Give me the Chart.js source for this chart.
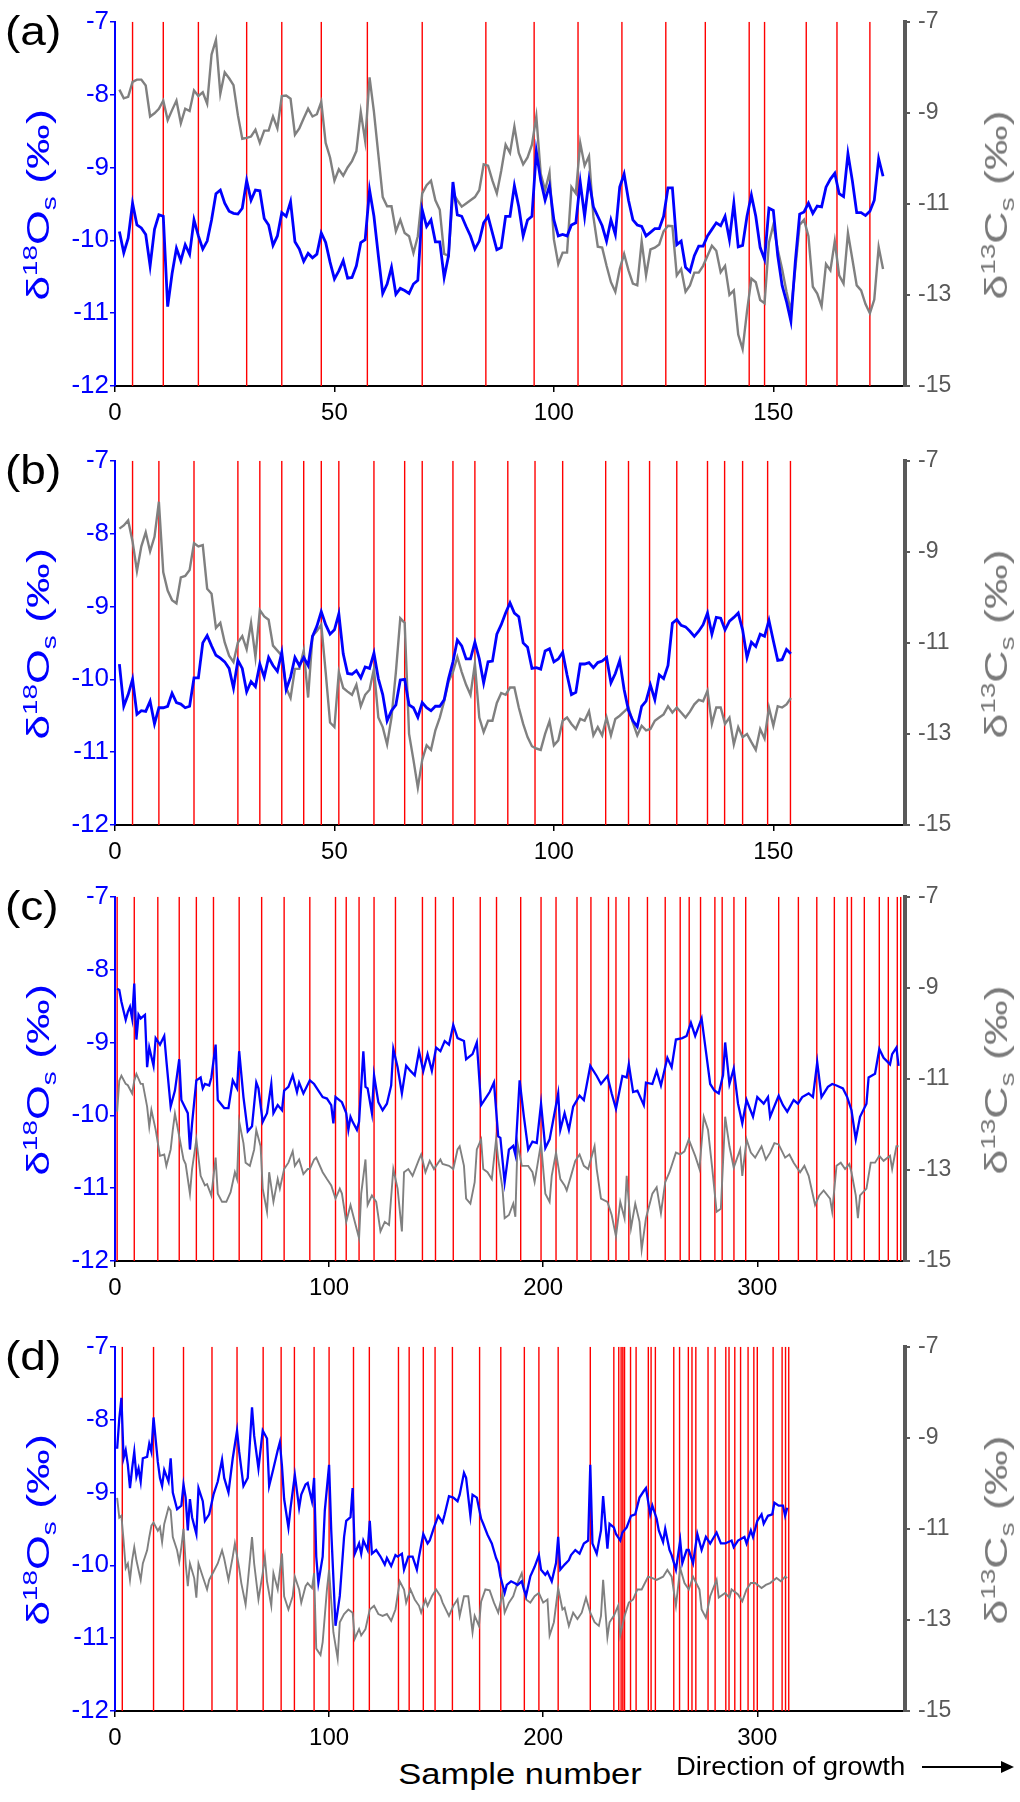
<!DOCTYPE html>
<html>
<head>
<meta charset="utf-8">
<script src="https://cdn.jsdelivr.net/npm/chart.js@4.4.0/dist/chart.umd.min.js"></script>
<style>
  body { margin: 0; background: #fff; font-family: Arial, "Liberation Sans", sans-serif; }
  #wrap { position: relative; width: 1020px; height: 1802px; overflow: hidden; background: #fff; }
  #wrap canvas { position: absolute; left: 0; }
  .lbl { position: absolute; white-space: nowrap; line-height: 1; z-index: 2; }
  .rot { transform: translate(-50%, -50%) rotate(-90deg) scaleX(1.4); }
  .lbl sup, .lbl sub { font-size: 0.62em; line-height: 0; }
  .arrow { position: absolute; left: 922px; top: 1766px; width: 80px; height: 0; border-top: 2px solid #000; }
  .arrow:after { content: ""; position: absolute; right: -12px; top: -7px; border-left: 13px solid #000; border-top: 6px solid transparent; border-bottom: 6px solid transparent; }
</style>
</head>
<body>
<div id="wrap"></div>
<script>
// (a) sample 1..175
const oxyA = [
  -9.88, -10.17, -9.97, -9.49, -9.79, -9.83, -9.92, -10.35, -9.85, -9.65,
  -9.67, -10.91, -10.46, -10.11, -10.28, -10.06, -10.19, -9.72, -9.94, -10.12,
  -10.01, -9.72, -9.36, -9.31, -9.49, -9.6, -9.63, -9.64, -9.56, -9.18,
  -9.45, -9.31, -9.32, -9.7, -9.79, -10.07, -9.94, -9.62, -9.67, -9.47,
  -10.02, -10.12, -10.29, -10.18, -10.24, -10.19, -9.9, -10.03, -10.3, -10.53,
  -10.42, -10.28, -10.52, -10.51, -10.35, -10.03, -9.99, -9.31, -9.67, -10.21,
  -10.73, -10.6, -10.37, -10.74, -10.66, -10.69, -10.73, -10.6, -10.55, -9.58,
  -9.81, -9.72, -10.02, -10.02, -10.51, -10.21, -9.2, -9.65, -9.67, -9.81,
  -9.94, -10.12, -10.01, -9.76, -9.67, -9.9, -10.13, -10.1, -9.67, -9.67,
  -9.25, -9.54, -9.94, -9.72, -9.67, -8.78, -9.18, -9.45, -9.25, -9.72,
  -9.94, -9.92, -9.94, -9.79, -9.76, -9.2, -9.67, -9.17, -9.54, -9.67,
  -9.8, -10.01, -9.72, -9.92, -9.27, -9.09, -9.45, -9.72, -9.79, -9.81,
  -9.94, -9.89, -9.84, -9.84, -9.67, -9.28, -9.28, -10.06, -10.01, -10.37,
  -10.43, -10.21, -10.08, -10.08, -9.94, -9.85, -9.76, -9.8, -9.67, -9.99,
  -9.49, -10.09, -10.07, -9.67, -9.38, -9.67, -10.1, -10.26, -9.56, -9.59,
  -10.21, -10.62, -10.84, -11.11, -10.3, -9.64, -9.61, -9.49, -9.63, -9.53,
  -9.54, -9.27, -9.16, -9.08, -9.36, -9.4, -8.81, -9.18, -9.62, -9.62,
  -9.66, -9.6, -9.45, -8.88, -9.12
];
const carbA = [
  -8.49, -8.68, -8.65, -8.32, -8.27, -8.27, -8.4, -9.08, -9.01, -8.91,
  -8.73, -9.16, -8.94, -8.73, -9.23, -8.91, -8.96, -8.51, -8.63, -8.55,
  -8.8, -7.72, -7.4, -8.58, -8.11, -8.24, -8.39, -9.05, -9.57, -9.55,
  -9.52, -9.37, -9.66, -9.39, -9.39, -9.08, -9.34, -8.63, -8.62, -8.69,
  -9.48, -9.34, -9.12, -8.91, -9.08, -9.03, -8.76, -9.66, -9.98, -10.49,
  -10.24, -10.38, -10.2, -10.06, -9.84, -8.98, -9.62, -8.22, -8.98, -9.91,
  -10.85, -11.05, -11.05, -11.6, -11.35, -11.64, -11.71, -12.08, -11.71, -10.77,
  -10.59, -10.49, -10.92, -11.13, -12.1, -12.14, -10.77, -10.92, -11.06, -10.99,
  -10.92, -10.85, -10.7, -10.13, -10.16, -10.49, -10.77, -10.27, -9.7, -9.88,
  -9.3, -9.88, -10.13, -9.98, -9.7, -9.08, -10.34, -10.7, -10.31, -11.78,
  -12.32, -12.07, -12.07, -10.63, -10.77, -9.66, -10.16, -9.95, -11.28, -11.94,
  -11.96, -12.36, -12.72, -12.93, -12.43, -12.1, -12.46, -12.75, -12.79, -11.82,
  -12.57, -12.0, -11.96, -11.89, -11.6, -11.48, -11.49, -12.57, -12.43, -12.93,
  -12.79, -12.51, -12.51, -12.36, -12.14, -11.92, -12.03, -12.5, -12.36, -13.0,
  -12.9, -13.87, -14.19, -13.36, -12.64, -12.72, -13.11, -13.18, -11.85, -11.46,
  -12.0, -12.43, -12.93, -13.36, -12.43, -11.46, -11.35, -11.71, -12.82, -12.97,
  -13.25, -12.32, -12.46, -11.82, -12.57, -12.75, -11.64, -12.21, -12.79, -12.9,
  -13.2, -13.4, -13.1, -11.95, -12.43
];
const redA = [4, 11, 19, 30, 38, 47, 57.5, 70, 84.5, 95.5, 105.5, 115.5, 125.5, 134.5, 144.5, 148, 157.5, 164.5, 172];

// (b) sample 1..154
const oxyB = [
  -9.79, -10.37, -10.21, -10.0, -10.48, -10.43, -10.44, -10.3, -10.61, -10.39,
  -10.39, -10.37, -10.19, -10.32, -10.34, -10.39, -10.37, -9.98, -9.98, -9.5,
  -9.4, -9.54, -9.67, -9.71, -9.76, -9.85, -10.12, -9.74, -9.85, -10.17,
  -10.03, -10.1, -9.79, -9.97, -9.7, -9.81, -9.89, -9.63, -10.14, -9.97,
  -9.7, -9.81, -9.7, -9.81, -9.41, -9.27, -9.07, -9.25, -9.38, -9.32,
  -9.1, -9.65, -9.92, -9.93, -9.88, -9.98, -9.83, -9.85, -9.64, -9.99,
  -10.21, -10.57, -10.43, -10.35, -10.01, -10.0, -10.35, -10.39, -10.52, -10.32,
  -10.39, -10.43, -10.37, -10.37, -10.28, -9.99, -9.76, -9.46, -9.54, -9.72,
  -9.72, -9.49, -9.72, -10.05, -9.76, -9.75, -9.38, -9.25, -9.09, -8.95,
  -9.09, -9.14, -9.5, -9.56, -9.85, -9.84, -9.86, -9.61, -9.58, -9.76,
  -9.72, -9.63, -9.94, -10.21, -10.18, -9.79, -9.79, -9.77, -9.84, -9.77,
  -9.75, -9.7, -10.05, -9.92, -9.74, -10.14, -10.43, -10.57, -10.65, -10.37,
  -10.3, -10.08, -10.28, -9.94, -9.99, -9.81, -9.23, -9.18, -9.26, -9.28,
  -9.34, -9.41, -9.34, -9.25, -9.09, -9.38, -9.15, -9.16, -9.32, -9.2,
  -9.15, -9.09, -9.32, -9.7, -9.49, -9.55, -9.38, -9.41, -9.19, -9.47,
  -9.74, -9.73, -9.59, -9.65
];
const carbB = [
  -8.49, -8.42, -8.31, -8.77, -9.42, -8.88, -8.57, -8.99, -8.67, -7.9,
  -9.45, -9.85, -10.06, -10.13, -9.56, -9.53, -9.4, -8.81, -8.88, -8.85,
  -9.81, -9.92, -10.67, -10.56, -10.99, -11.28, -11.42, -10.99, -10.85, -11.14,
  -10.56, -11.31, -10.28, -10.42, -10.49, -11.06, -11.17, -11.28, -11.99, -12.21,
  -11.57, -11.57, -11.17, -12.2, -10.85, -10.74, -10.6, -11.64, -12.75, -12.85,
  -11.64, -11.99, -12.07, -12.14, -11.92, -12.39, -12.14, -12.03, -11.57, -12.64,
  -12.85, -13.23, -12.64, -11.64, -10.46, -10.56, -13.0, -13.57, -14.18, -13.57,
  -13.25, -13.35, -12.92, -12.64, -12.28, -11.85, -11.64, -11.31, -11.64, -11.92,
  -12.14, -11.46, -12.64, -12.96, -12.71, -12.71, -12.32, -12.1, -12.14, -11.98,
  -11.98, -12.42, -12.78, -13.07, -13.27, -13.32, -13.35, -13.0, -12.72, -13.25,
  -13.14, -12.71, -12.64, -12.78, -12.89, -12.67, -12.71, -12.5, -13.03, -12.85,
  -13.03, -12.64, -13.03, -12.67, -12.6, -12.51, -12.42, -12.75, -13.03, -12.82,
  -12.92, -12.89, -12.71, -12.64, -12.57, -12.39, -12.53, -12.42, -12.53, -12.64,
  -12.51, -12.35, -12.25, -12.28, -12.05, -12.78, -12.42, -12.42, -12.78, -12.64,
  -13.23, -12.85, -13.07, -13.0, -13.18, -13.35, -12.89, -13.1, -12.42, -12.82,
  -12.39, -12.42, -12.35, -12.21
];
const redB = [4, 10, 18, 28, 33, 38, 43, 47, 51, 59, 66, 70, 77, 82, 89.5, 95.7, 102, 111.8, 117, 121.8, 128, 135, 138.9, 143, 148.7, 153.9];

// (c) [sample, value]
const oxyC = [
  [1,-8.26],[2,-8.28],[3,-8.44],[5,-8.69],[6,-8.58],[7,-8.51],[8,-8.67],[9,-8.19],[10,-8.96],[11,-8.62],[12,-8.67],[14,-8.62],[15,-9.34],[16,-9.07],[18,-9.32],[19,-8.94],[21,-9.03],[23,-8.91],[24,-9.25],[26,-9.88],[28,-9.66],[30,-9.23],[31,-9.79],[34,-9.97],[35,-10.47],[36,-10.11],[38,-9.52],[40,-9.48],[41,-9.63],[42,-9.57],[44,-9.59],[45,-9.48],[47,-9.03],[48,-9.79],[51,-9.9],[53,-9.9],[55,-9.52],[57,-9.63],[58,-9.12],[60,-9.75],
  [62,-10.22],[64,-10.15],[66,-9.55],[67,-9.63],[69,-10.09],[71,-9.97],[73,-9.57],[74,-9.97],[76,-9.86],[78,-9.93],[79,-9.66],[81,-9.61],[83,-9.45],[85,-9.68],[86,-9.55],[88,-9.7],[91,-9.52],[93,-9.57],[95,-9.66],[97,-9.75],[99,-9.77],[101,-9.86],[102,-10.11],[103,-9.75],[106,-9.82],[108,-9.97],[109,-10.2],[110,-10.02],[111,-10.09],[113,-10.2],[114,-10.09],[116,-9.12],[117,-9.61],[118,-9.63],[120,-9.97],[121,-9.45],[123,-9.82],[125,-9.93],[127,-9.84],[129,-9.59],
  [130,-9.09],[132,-9.34],[134,-9.7],[136,-9.32],[138,-9.39],[140,-9.45],[142,-9.12],[144,-9.39],[146,-9.16],[148,-9.39],[150,-9.07],[152,-9.12],[154,-8.98],[156,-9.03],[158,-8.76],[160,-8.94],[163,-8.98],[164,-9.23],[167,-9.16],[169,-9.0],[171,-9.86],[173,-9.77],[175,-9.68],[177,-9.55],[179,-10.29],[180,-10.31],[182,-10.92],[184,-10.47],[186,-10.42],[187,-10.54],[189,-9.52],[191,-10.02],[193,-10.47],[195,-10.36],[197,-10.38],[199,-9.84],[201,-10.45],[203,-10.33],[207,-9.7],[208,-10.2],
  [210,-9.97],[212,-10.2],[214,-9.88],[217,-9.73],[219,-9.79],[222,-9.32],[225,-9.46],[227,-9.57],[230,-9.46],[232,-9.7],[234,-9.91],[237,-9.46],[239,-9.48],[240,-9.3],[242,-9.68],[244,-9.66],[247,-9.86],[248,-9.55],[251,-9.57],[253,-9.39],[255,-9.59],[258,-9.21],[260,-9.34],[262,-8.96],[265,-8.94],[267,-8.91],[269,-8.73],[271,-8.91],[274,-8.67],[276,-9.12],[278,-9.57],[280,-9.66],[282,-9.7],[284,-9.45],[285,-9.0],[287,-9.57],[289,-9.36],[291,-9.84],[293,-10.11],[295,-9.79],
  [298,-10.02],[300,-9.75],[303,-9.84],[305,-9.75],[306,-10.02],[310,-9.73],[312,-9.86],[314,-9.95],[317,-9.79],[319,-9.84],[321,-9.75],[324,-9.7],[326,-9.75],[328,-9.27],[330,-9.75],[333,-9.61],[335,-9.57],[337,-9.59],[340,-9.63],[342,-9.75],[344,-9.93],[346,-10.33],[348,-10.02],[351,-9.84],[352,-9.48],[355,-9.43],[357,-9.09],[359,-9.21],[362,-9.3],[363,-9.16],[365,-9.07],[366,-9.32]
];
const carbC = [
  [1,-11.72],[2,-11.04],[3,-10.93],[5,-11.11],[6,-11.14],[8,-11.32],[9,-11.04],[10,-10.89],[12,-11.11],[13,-11.11],[15,-11.61],[16,-12.05],[17,-11.68],[19,-12.12],[21,-12.69],[23,-12.66],[24,-12.91],[26,-12.55],[27,-12.12],[28,-11.76],[30,-12.26],[32,-12.77],[33,-12.87],[35,-13.52],[36,-12.98],[38,-12.33],[40,-13.13],[42,-13.34],[43,-13.31],[45,-13.56],[47,-12.73],[48,-13.52],[50,-13.7],[52,-13.7],[54,-13.49],[56,-13.05],[57,-13.2],[58,-11.94],[60,-12.41],[61,-12.84],
  [63,-12.91],[65,-12.55],[66,-12.12],[68,-12.48],[69,-13.41],[71,-13.92],[72,-13.05],[74,-13.7],[76,-13.2],[77,-13.41],[79,-12.98],[81,-12.84],[83,-12.59],[84,-12.91],[86,-12.77],[88,-13.09],[90,-12.98],[91,-12.98],[93,-12.77],[94,-12.73],[97,-13.05],[99,-13.2],[101,-13.34],[103,-13.63],[105,-13.41],[106,-13.52],[108,-14.14],[110,-13.77],[112,-14.14],[114,-14.5],[115,-13.52],[117,-12.77],[118,-13.77],[120,-13.56],[122,-13.7],[124,-14.35],[126,-14.14],[128,-14.21],[130,-12.98],[132,-13.41],
  [134,-14.35],[135,-13.05],[137,-12.98],[139,-13.13],[142,-12.77],[143,-12.66],[145,-13.05],[147,-12.8],[149,-12.98],[152,-12.77],[153,-12.87],[156,-12.91],[158,-12.98],[160,-12.55],[161,-12.48],[163,-12.91],[164,-13.63],[166,-13.74],[168,-13.27],[169,-12.55],[171,-12.33],[172,-12.98],[174,-13.05],[176,-13.2],[178,-12.33],[179,-12.77],[181,-13.41],[182,-14.06],[184,-13.99],[186,-13.74],[187,-14.03],[188,-12.41],[190,-12.91],[193,-12.91],[195,-13.05],[196,-13.27],[199,-12.41],[201,-13.52],[203,-13.7],[204,-13.13],
  [206,-12.62],[208,-13.2],[210,-13.34],[211,-13.45],[213,-13.13],[215,-12.8],[217,-12.66],[219,-12.91],[221,-12.98],[224,-12.48],[225,-12.98],[227,-13.63],[230,-13.7],[232,-13.99],[234,-14.46],[236,-13.7],[238,-14.06],[239,-13.13],[241,-14.28],[243,-13.74],[245,-14.14],[246,-14.75],[248,-14.06],[251,-13.52],[253,-13.38],[255,-13.95],[257,-13.27],[259,-13.05],[262,-12.62],[264,-12.66],[266,-12.59],[268,-12.33],[271,-12.69],[273,-12.98],[275,-11.83],[277,-12.12],[279,-12.98],[281,-13.92],[283,-13.85],[285,-11.83],
  [287,-12.48],[289,-12.95],[292,-12.55],[293,-13.13],[295,-12.33],[297,-12.62],[299,-12.73],[302,-12.48],[304,-12.77],[306,-12.62],[308,-12.41],[310,-12.44],[313,-12.73],[315,-12.66],[317,-12.84],[320,-13.05],[322,-12.91],[324,-13.13],[327,-13.77],[329,-13.56],[331,-13.45],[334,-13.63],[335,-13.92],[337,-12.91],[339,-12.84],[341,-12.98],[343,-12.87],[344,-13.05],[346,-13.56],[347,-14.06],[348,-13.56],[351,-13.41],[353,-12.84],[355,-12.84],[357,-12.69],[359,-12.8],[362,-12.69],[363,-12.98],[365,-12.48],[366,-12.48]
];
const redC = [1, 9, 20, 30, 38, 46, 58, 68.5, 79, 91, 103, 108, 114, 121, 131, 143.6, 149.7, 158, 170.6, 178.2, 189.5, 199, 206, 215.8, 222.3, 230.5, 234, 240, 248.7, 257, 264, 268.2, 273.5, 280.2, 283.6, 289.1, 294.6, 310, 319.2, 327.8, 336, 342, 344, 350, 357, 361.2, 365.4, 367];

// (d) [sample, value]
const oxyD = [
  [1,-8.4],[2,-7.99],[3,-7.7],[4,-8.53],[5,-8.42],[6,-8.62],[7,-8.94],[8,-8.67],[9,-8.44],[10,-8.78],[11,-8.67],[12,-8.85],[13,-8.53],[15,-8.51],[16,-8.33],[17,-8.44],[18,-7.97],[20,-8.58],[21,-8.8],[22,-8.91],[23,-8.69],[25,-8.85],[26,-8.53],[27,-9.0],[29,-9.23],[31,-9.18],[32,-8.89],[33,-9.07],[34,-9.52],[35,-9.09],[36,-9.34],[38,-9.57],[39,-8.94],[41,-9.12],[42,-9.39],[44,-9.3],[46,-9.03],[48,-8.85],[50,-8.55],[51,-8.8],
  [53,-9.0],[55,-8.53],[57,-8.15],[58,-8.44],[60,-8.91],[62,-8.8],[64,-7.83],[65,-8.22],[67,-8.67],[69,-8.15],[71,-8.26],[72,-8.91],[74,-8.67],[76,-8.42],[77,-8.31],[78,-8.64],[79,-9.09],[81,-9.48],[82,-9.21],[84,-8.76],[86,-9.21],[87,-9.03],[89,-8.89],[90,-8.87],[92,-9.12],[93,-8.8],[94,-9.88],[95,-10.24],[97,-9.88],[98,-9.25],[100,-8.62],[101,-9.52],[103,-10.83],[105,-10.42],[107,-9.61],[108,-9.39],[110,-9.34],[111,-8.94],[112,-9.84],[114,-9.7],
  [115,-9.84],[116,-9.66],[118,-9.79],[119,-9.39],[120,-9.84],[122,-9.79],[124,-9.88],[126,-9.99],[127,-9.9],[129,-10.01],[131,-9.86],[132,-9.88],[134,-9.84],[135,-10.06],[137,-9.88],[139,-9.88],[141,-10.06],[142,-9.88],[144,-9.57],[146,-9.7],[147,-9.66],[149,-9.48],[151,-9.32],[153,-9.41],[154,-9.3],[156,-9.05],[158,-9.07],[160,-9.12],[161,-9.03],[163,-8.73],[164,-8.8],[166,-9.32],[167,-9.03],[169,-9.07],[171,-9.36],[172,-9.43],[174,-9.58],[176,-9.7],[178,-9.9],[179,-9.97],
  [180,-10.15],[182,-10.38],[183,-10.27],[185,-10.22],[187,-10.25],[188,-10.27],[190,-10.22],[191,-10.33],[192,-10.42],[194,-10.15],[196,-10.02],[198,-9.86],[199,-10.06],[201,-10.13],[202,-10.09],[204,-10.22],[206,-9.97],[207,-9.61],[208,-10.06],[210,-9.99],[212,-9.93],[213,-9.86],[215,-9.79],[217,-9.84],[219,-9.7],[221,-9.66],[222,-8.62],[223,-9.7],[225,-9.84],[227,-9.52],[228,-9.05],[230,-9.77],[231,-9.43],[233,-9.48],[234,-9.57],[236,-9.66],[237,-9.55],[239,-9.48],[241,-9.32],[243,-9.3],
  [245,-9.07],[247,-8.98],[248,-8.94],[250,-9.3],[251,-9.18],[253,-9.36],[254,-9.52],[256,-9.68],[257,-9.5],[259,-9.79],[260,-9.86],[262,-10.06],[264,-9.66],[265,-9.97],[267,-9.79],[268,-9.79],[270,-9.97],[272,-9.57],[274,-9.79],[276,-9.61],[278,-9.7],[281,-9.55],[283,-9.7],[285,-9.7],[288,-9.66],[289,-9.75],[291,-9.66],[294,-9.61],[295,-9.7],[297,-9.52],[298,-9.61],[300,-9.39],[302,-9.3],[303,-9.43],[305,-9.32],[307,-9.3],[308,-9.14],[310,-9.18],[312,-9.18],[313,-9.32],[314,-9.21]
];
const carbD = [
  [1,-10.32],[2,-10.75],[3,-10.71],[4,-11.25],[5,-11.86],[6,-11.76],[7,-12.12],[8,-11.69],[9,-11.4],[10,-11.69],[12,-12.12],[13,-11.76],[15,-11.47],[16,-11.18],[17,-10.93],[18,-10.86],[20,-11.04],[21,-10.96],[22,-11.29],[23,-10.89],[25,-10.53],[26,-10.6],[27,-11.18],[29,-11.47],[30,-11.72],[31,-11.4],[32,-11.0],[33,-11.76],[34,-12.26],[35,-11.76],[37,-12.08],[38,-12.51],[39,-11.76],[41,-12.05],[43,-12.33],[44,-12.12],[46,-11.94],[48,-11.76],[50,-11.47],[51,-11.65],
  [53,-12.12],[55,-11.61],[56,-11.32],[58,-11.86],[59,-12.19],[61,-12.66],[62,-12.19],[64,-11.18],[65,-11.76],[67,-12.55],[69,-11.97],[70,-11.61],[71,-12.15],[73,-12.69],[74,-11.97],[76,-12.33],[78,-11.54],[79,-12.48],[81,-12.77],[83,-12.48],[84,-12.05],[86,-12.33],[87,-12.62],[89,-12.26],[90,-12.19],[92,-12.3],[93,-11.97],[94,-13.63],[96,-13.77],[97,-13.49],[99,-12.33],[100,-11.9],[102,-13.27],[104,-13.85],[105,-13.05],[107,-12.87],[109,-12.77],[111,-12.84],[112,-13.41],[114,-13.2],
  [115,-13.34],[117,-13.2],[119,-12.77],[121,-12.69],[123,-12.87],[125,-12.91],[127,-12.87],[129,-13.02],[131,-12.77],[133,-12.15],[135,-12.33],[136,-12.62],[138,-12.33],[140,-12.55],[142,-12.69],[143,-12.84],[145,-12.55],[146,-12.69],[148,-12.48],[150,-12.33],[152,-12.48],[153,-12.62],[156,-12.91],[158,-12.69],[160,-12.55],[161,-12.91],[163,-12.48],[165,-12.48],[167,-13.27],[168,-12.91],[170,-13.13],[171,-12.6],[173,-12.33],[175,-12.35],[177,-12.62],[179,-12.84],[181,-12.41],[182,-12.84],[184,-12.62],[186,-12.48],
  [188,-12.19],[190,-11.97],[192,-12.55],[194,-12.62],[196,-12.48],[198,-12.41],[200,-12.62],[202,-12.55],[203,-13.34],[205,-13.05],[207,-12.3],[209,-12.77],[210,-12.73],[212,-13.13],[214,-12.84],[216,-12.98],[218,-12.84],[220,-12.51],[222,-12.84],[224,-13.05],[226,-13.13],[227,-12.91],[228,-12.12],[230,-13.38],[231,-13.05],[233,-12.91],[235,-12.69],[236,-13.34],[238,-12.91],[240,-12.62],[242,-12.55],[244,-12.33],[246,-12.33],[249,-12.05],[251,-12.08],[253,-12.12],[256,-12.05],[258,-11.9],[260,-12.05],[262,-12.69],
  [264,-11.86],[266,-12.19],[268,-12.33],[270,-12.05],[273,-12.33],[274,-12.77],[276,-12.95],[278,-12.48],[281,-12.12],[282,-12.51],[285,-12.41],[287,-12.51],[288,-12.33],[291,-12.44],[293,-12.59],[295,-12.33],[297,-12.19],[299,-12.19],[302,-12.3],[304,-12.23],[306,-12.19],[309,-12.08],[311,-12.15],[313,-12.05],[314,-12.08]
];
const redD = [3.4, 18, 32, 45.3, 57, 69.2, 77.6, 83.8, 93, 100, 111.4, 118.8, 132.4, 137.4, 144, 149.5, 157.6, 170.3, 180.2, 191.2, 198, 207, 222, 233, 235.3, 236.4, 237.2, 238, 240.8, 243.4, 249.1, 250.4, 252.4, 261, 263.7, 267.8, 269.5, 271.3, 277, 280.3, 285.3, 286.8, 289.5, 292.2, 295.7, 298.4, 300, 307.4, 311.6, 313.2, 314.7];

const FONT = 'Arial, "Liberation Sans", sans-serif';
const wrap = document.getElementById('wrap');

function seq(vals) { return vals.map((v, i) => ({ x: i + 1, y: v })); }
function pairs(arr) { return arr.map(p => ({ x: p[0], y: p[1] })); }
// each marker line runs the full height of the left axis, broken by a null
function redPoints(xs) {
  const pts = [];
  xs.forEach(x => { pts.push({ x: x, y: -7 }, { x: x, y: -12 }, { x: x, y: null }); });
  return pts;
}

function addLabel(html, css, cls) {
  const d = document.createElement('div');
  d.className = 'lbl' + (cls ? ' ' + cls : '');
  d.innerHTML = html;
  Object.assign(d.style, css);
  wrap.appendChild(d);
}

function makePanel(top, letter, xMax, xStep, oxy, carb, reds, lw) {
  const cv = document.createElement('canvas');
  cv.width = 1020; cv.height = 431;
  cv.style.top = (top - 15) + 'px';
  wrap.appendChild(cv);

  new Chart(cv, {
    type: 'scatter',
    data: {
      datasets: [
        { data: oxy, yAxisID: 'y', showLine: true, borderColor: '#0000ff', borderWidth: lw, pointRadius: 0, order: 1 },
        { data: carb, yAxisID: 'y2', showLine: true, borderColor: '#808080', borderWidth: lw - 0.4, pointRadius: 0, order: 2 },
        { data: redPoints(reds), yAxisID: 'y', showLine: true, spanGaps: false, borderColor: '#ff0000', borderWidth: 1.4, pointRadius: 0, order: 3 }
      ]
    },
    options: {
      responsive: false,
      animation: false,
      events: [],
      layout: { padding: { top: 15, left: 0, right: 0, bottom: 0 } },
      plugins: { legend: { display: false }, tooltip: { enabled: false } },
      scales: {
        x: {
          type: 'linear', position: 'bottom', min: 0, max: xMax,
          afterFit: s => { s.height = 45; },
          ticks: { stepSize: xStep, includeBounds: false, color: '#000', font: { size: 24, family: FONT }, padding: 7, maxRotation: 0 },
          grid: { drawOnChartArea: false, drawTicks: true, tickLength: 6, color: '#000', lineWidth: 1.5 },
          border: { color: '#000', width: 2 }
        },
        y: {
          type: 'linear', position: 'left', min: -12, max: -7,
          afterFit: s => { s.width = 115; },
          ticks: { stepSize: 1, color: '#0000ff', font: { size: 26, family: FONT }, padding: 1 },
          grid: { drawOnChartArea: false, drawTicks: true, tickLength: 5, color: '#0000ff', lineWidth: 1.5 },
          border: { color: '#0000ff', width: 2 }
        },
        y2: {
          type: 'linear', position: 'right', min: -15, max: -7,
          afterFit: s => { s.width = 115; },
          ticks: { stepSize: 2, color: '#595959', font: { size: 23, family: FONT }, padding: 8 },
          grid: { drawOnChartArea: false, drawTicks: true, tickLength: 5, color: '#595959', lineWidth: 2 },
          border: { color: '#595959', width: 4 }
        }
      }
    }
  });

  addLabel('(' + letter + ')', { left: '5px', top: (top - 4) + 'px', fontSize: '40px', color: '#000', transformOrigin: 'left top', transform: 'scaleX(1.15)' });
  addLabel('&delta;<sup>18</sup>O<sub>s</sub> (&permil;)', { left: '38px', top: (top + 190) + 'px', fontSize: '32px', color: '#0000ff' }, 'rot');
  addLabel('&delta;<sup>13</sup>C<sub>s</sub> (&permil;)', { left: '996px', top: (top + 190) + 'px', fontSize: '32px', color: '#7a7a7a' }, 'rot');
}

makePanel(15, 'a', 180, 50, seq(oxyA), seq(carbA), redA, 2.8);
makePanel(454, 'b', 180, 50, seq(oxyB), seq(carbB), redB, 2.8);
makePanel(890, 'c', 369, 100, pairs(oxyC), pairs(carbC), redC, 2.3);
makePanel(1340, 'd', 369, 100, pairs(oxyD), pairs(carbD), redD, 2.3);

addLabel('Sample number', { left: '520px', top: '1774px', fontSize: '30px', color: '#000', transform: 'translate(-50%, -50%) scaleX(1.15)' });
addLabel('Direction of growth', { left: '676px', top: '1754px', fontSize: '25px', color: '#000', transformOrigin: 'left center', transform: 'scaleX(1.1)' });
const arrow = document.createElement('div');
arrow.className = 'arrow';
wrap.appendChild(arrow);
</script>
</body>
</html>
